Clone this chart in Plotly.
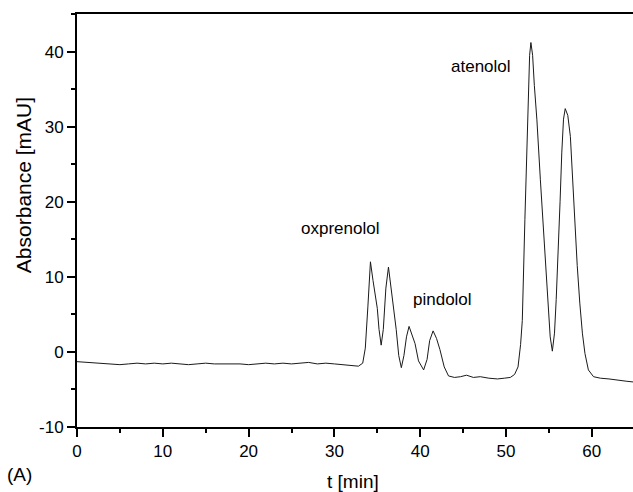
import plotly.graph_objects as go

# Chromatogram
t_min = [0, 1, 2, 3, 4, 5, 6, 7, 8, 9, 10, 11, 12, 13, 14, 15, 16, 17, 18, 19,
         20, 21, 22, 23, 24, 25, 26, 27, 28, 29, 30, 31, 32, 32.8, 33.3, 33.6,
         33.9, 34.2, 34.5, 34.8, 35.0, 35.2, 35.45, 35.7, 36.0, 36.3, 36.6, 36.9,
         37.2, 37.5, 37.8, 38.1, 38.4, 38.7, 39.0, 39.4, 39.8, 40.4, 40.8, 41.1,
         41.5, 41.9, 42.3, 42.8, 43.3, 44.0, 44.7, 45.4, 46.2, 47.0, 48.0, 49.0,
         49.8, 50.5, 51.0, 51.4, 51.7, 51.9, 52.2, 52.5, 52.75, 52.9, 53.1, 53.3,
         53.6, 54.0, 54.3, 54.6, 54.9, 55.15, 55.4, 55.65, 55.85, 56.1, 56.3,
         56.5, 56.7, 56.9, 57.2, 57.5, 58.0, 58.3, 58.6, 58.9, 59.2, 59.6, 60.2,
         61, 62, 63, 64, 64.8]
absorbance = [-1.3, -1.4, -1.5, -1.6, -1.6, -1.7, -1.6, -1.5, -1.6, -1.5, -1.6,
              -1.5, -1.6, -1.7, -1.6, -1.5, -1.6, -1.6, -1.5, -1.6, -1.7, -1.6,
              -1.5, -1.6, -1.5, -1.6, -1.5, -1.4, -1.6, -1.5, -1.6, -1.7, -1.8,
              -1.9, -1.5, 0.5, 6.0, 12.0, 9.5, 7.0, 5.8, 3.0, 0.9, 3.0, 8.5, 11.3,
              8.5, 6.0, 3.0, -0.5, -2.1, -0.5, 2.0, 3.4, 2.5, 1.1, -1.2, -2.4,
              -1.0, 1.5, 2.8, 1.8, 0.3, -2.0, -3.2, -3.4, -3.3, -3.1, -3.4, -3.3,
              -3.5, -3.6, -3.5, -3.4, -3.0, -2.0, 1.0, 4.2, 17.6, 31.0, 39.5, 41.2,
              39.5, 35.5, 30.9, 23.0, 17.6, 11.0, 6.5, 2.0, 0.1, 2.5, 7.0, 13.1,
              20.0, 26.5, 31.0, 32.4, 31.5, 28.7, 17.6, 11.5, 6.5, 2.5, -0.2,
              -2.4, -3.3, -3.5, -3.6, -3.8, -3.9, -4.0]

x_ticks = [0, 10, 20, 30, 40, 50, 60]
y_ticks = [-10, 0, 10, 20, 30, 40]
y_tick_labels = ["-10", "0", "10", "20", "30", "40"]

peak_names = ["oxprenolol", "pindolol", "atenolol"]
peak_label_t = [30.65, 42.6, 47.1]
peak_label_v = [16.4, 7.0, 38.0]

FONT = "Liberation Sans, Arial, Helvetica, sans-serif"

fig = go.Figure()
fig.add_trace(go.Scatter(x=t_min, y=absorbance, mode="lines",
                         line=dict(color="#1a1a1a", width=1),
                         showlegend=False, hoverinfo="skip"))

for name, tx, ty in zip(peak_names, peak_label_t, peak_label_v):
    fig.add_annotation(x=tx, y=ty, xref="x", yref="y", text=name,
                       xanchor="center", yanchor="middle",
                       showarrow=False, font=dict(family=FONT, size=17, color="black"))

fig.add_annotation(x=-0.095, y=0.586, xref="paper", yref="paper",
                   text="Absorbance [mAU]", textangle=-90, showarrow=False,
                   xanchor="center", yanchor="middle",
                   font=dict(family=FONT, size=21, color="black"))
fig.add_annotation(x=0.496, y=-0.131, xref="paper", yref="paper",
                   text="t [min]", showarrow=False,
                   xanchor="center", yanchor="middle",
                   font=dict(family=FONT, size=19, color="black"))
fig.add_annotation(x=-0.103, y=-0.116, xref="paper", yref="paper",
                   text="(A)", showarrow=False,
                   xanchor="center", yanchor="middle",
                   font=dict(family=FONT, size=19, color="black"))

fig.update_layout(
    width=633, height=492,
    margin=dict(l=77, r=0, t=14, b=65),
    paper_bgcolor="white", plot_bgcolor="white",
    font=dict(family=FONT, size=17, color="black"),
    xaxis=dict(range=[0, 64.8], tickmode="array", tickvals=x_ticks,
               showgrid=False, zeroline=False,
               showline=True, linecolor="black", linewidth=2, mirror=True,
               ticks="outside", ticklen=8, tickwidth=1.5, tickcolor="black",
               minor=dict(dtick=5, tick0=0, ticks="outside", ticklen=4, tickwidth=1.5,
                          tickcolor="black", showgrid=False),
               tickfont=dict(family=FONT, size=17, color="black"),
               automargin=False),
    yaxis=dict(range=[-10, 45], tickmode="array", tickvals=y_ticks,
               ticktext=y_tick_labels, showgrid=False, zeroline=False,
               showline=True, linecolor="black", linewidth=2,
               ticks="outside", ticklen=8, tickwidth=1.5, tickcolor="black",
               minor=dict(dtick=5, tick0=0, ticks="outside", ticklen=4, tickwidth=1.5,
                          tickcolor="black", showgrid=False),
               tickfont=dict(family=FONT, size=17, color="black"),
               automargin=False),
)

fig.write_html("out.html", config={"displayModeBar": False},
               post_script="document.body.style.margin='0px';document.body.style.padding='0px';")
